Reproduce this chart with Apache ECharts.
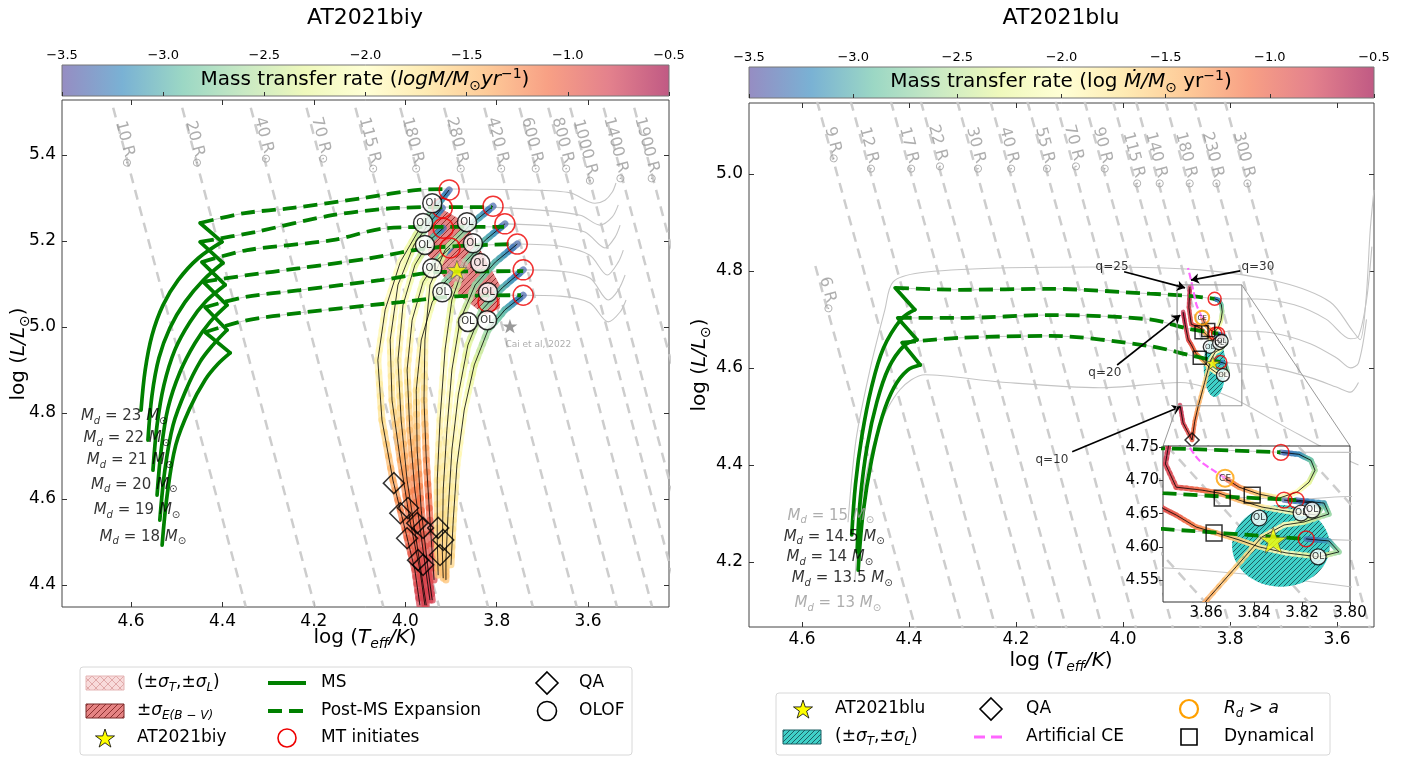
<!DOCTYPE html>
<html><head><meta charset="utf-8">
<script src="https://cdn.jsdelivr.net/npm/echarts@6/dist/echarts.min.js"></script>
<style>html,body{margin:0;padding:0;background:#fff}#c{width:1416px;height:758px}</style>
</head><body><div id="c"></div>
<script>
// ================= DATA =================
const cbTicks = [-3.5,-3.0,-2.5,-2.0,-1.5,-1.0,-0.5];
const biyXTicks = [3.6,3.8,4.0,4.2,4.4,4.6];
const biyYTicks = [4.4,4.6,4.8,5.0,5.2,5.4];
const bluXTicks = [3.6,3.8,4.0,4.2,4.4,4.6];
const bluYTicks = [4.2,4.4,4.6,4.8,5.0];
const insetXTicks = [3.80,3.82,3.84,3.86];
const insetYTicks = [4.55,4.60,4.65,4.70,4.75];
const biyRange = {x:[3.423,4.751], y:[4.349,5.528]};
const bluRange = {x:[3.531,4.699], y:[4.066,5.146]};
const insetRange = {x:[3.80,3.878], y:[4.517,4.752]};

// constant-radius lines: [R label, top point, bottom point, label centre]  (logT, logL)
const biyRadius = [
 ['10',[4.639,5.51],[4.349,4.35],[4.611,5.426]],
 ['20',[4.488,5.51],[4.198,4.35],[4.458,5.426]],
 ['40',[4.338,5.51],[4.048,4.35],[4.307,5.435]],
 ['70',[4.216,5.51],[3.926,4.35],[4.182,5.435]],
 ['115',[4.109,5.51],[3.819,4.35],[4.075,5.423]],
 ['180',[4.011,5.51],[3.721,4.35],[3.981,5.423]],
 ['280',[3.915,5.51],[3.625,4.35],[3.884,5.423]],
 ['420',[3.827,5.51],[3.537,4.35],[3.795,5.423]],
 ['600',[3.750,5.51],[3.460,4.35],[3.720,5.423]],
 ['800',[3.687,5.51],[3.397,4.35],[3.653,5.423]],
 ['1000',[3.639,5.51],[3.349,4.35],[3.604,5.407]],
 ['1400',[3.566,5.51],[3.276,4.35],[3.537,5.412]],
 ['1900',[3.499,5.51],[3.209,4.35],[3.469,5.412]]
];
const bluRadius = [
 ['6',[4.575,4.81],[4.387,4.06],[4.550,4.751]],
 ['9',[4.572,5.15],[4.299,4.06],[4.540,5.060]],
 ['12',[4.509,5.15],[4.237,4.06],[4.473,5.049]],
 ['17',[4.434,5.15],[4.161,4.06],[4.398,5.049]],
 ['22',[4.378,5.15],[4.105,4.06],[4.344,5.054]],
 ['30',[4.310,5.15],[4.038,4.06],[4.273,5.049]],
 ['40',[4.248,5.15],[3.975,4.06],[4.211,5.049]],
 ['55',[4.179,5.15],[3.906,4.06],[4.144,5.049]],
 ['70',[4.126,5.15],[3.854,4.06],[4.090,5.054]],
 ['90',[4.072,5.15],[3.799,4.06],[4.036,5.049]],
 ['115',[4.019,5.15],[3.746,4.06],[3.978,5.029]],
 ['140',[3.976,5.15],[3.703,4.06],[3.936,5.029]],
 ['180',[3.921,5.15],[3.649,4.06],[3.880,5.029]],
 ['230',[3.868,5.15],[3.595,4.06],[3.830,5.029]],
 ['300',[3.810,5.15],[3.538,4.06],[3.772,5.029]]
];

// ---- AT2021biy ----
const biyMdLabels = [['23',4.615,4.793],['22',4.609,4.742],['21',4.602,4.691],['20',4.593,4.633],['19',4.587,4.574],['18',4.574,4.512]];
// MS tracks: ZAMS ... end of MS (coolest point), then the hook up-left (last point = start of post-MS)
const biyMS = [
 [[4.578,4.807],[4.569,4.900],[4.554,4.981],[4.530,5.051],[4.497,5.109],[4.453,5.160],[4.401,5.198],[4.449,5.242]],
 [[4.563,4.737],[4.554,4.842],[4.539,4.928],[4.515,4.998],[4.482,5.058],[4.442,5.109],[4.399,5.149],[4.449,5.198]],
 [[4.552,4.667],[4.543,4.772],[4.528,4.865],[4.504,4.947],[4.471,5.012],[4.436,5.060],[4.394,5.098],[4.445,5.151]],
 [[4.543,4.609],[4.534,4.714],[4.519,4.812],[4.493,4.895],[4.460,4.963],[4.427,5.012],[4.390,5.051],[4.442,5.105]],
 [[4.537,4.551],[4.526,4.667],[4.508,4.772],[4.480,4.853],[4.449,4.919],[4.421,4.958],[4.390,4.993],[4.438,5.046]],
 [[4.532,4.493],[4.521,4.609],[4.502,4.726],[4.471,4.812],[4.438,4.877],[4.410,4.914],[4.383,4.940],[4.438,4.988]]
];
const biyPostMS = [
 [[4.449,5.242],[4.351,5.265],[4.246,5.277],[4.092,5.300],[3.972,5.319],[3.904,5.321]],
 [[4.449,5.198],[4.329,5.221],[4.160,5.260],[4.016,5.277],[3.904,5.279],[3.810,5.279]],
 [[4.445,5.151],[4.346,5.179],[4.160,5.202],[4.040,5.230],[3.902,5.233],[3.784,5.233]],
 [[4.442,5.105],[4.350,5.120],[4.230,5.137],[4.077,5.160],[3.946,5.184],[3.758,5.193]],
 [[4.438,5.046],[4.350,5.070],[4.230,5.086],[4.055,5.109],[3.924,5.128],[3.742,5.130]],
 [[4.438,4.988],[4.350,5.015],[4.230,5.033],[4.011,5.058],[3.880,5.072],[3.747,5.074]]
];
const biySingle = [
 [[3.904,5.321],[3.733,5.319],[3.639,5.312],[3.585,5.288],[3.563,5.295],[3.547,5.314],[3.539,5.335]],
 [[3.810,5.279],[3.705,5.272],[3.617,5.260],[3.574,5.237],[3.547,5.256],[3.534,5.284]],
 [[3.782,5.240],[3.683,5.235],[3.607,5.221],[3.563,5.184],[3.541,5.209],[3.530,5.237]],
 [[3.758,5.193],[3.661,5.188],[3.596,5.167],[3.558,5.121],[3.534,5.151],[3.523,5.179]],
 [[3.742,5.133],[3.661,5.130],[3.596,5.114],[3.556,5.063],[3.534,5.086],[3.519,5.121]],
 [[3.747,5.074],[3.661,5.072],[3.596,5.056],[3.556,5.012],[3.530,5.035],[3.517,5.063]]
];
// mass-transfer tracks: [logT, logL, log Mdot]
const biyMT = [
 [[3.904,5.319,-3.4],[3.930,5.284,-3.0],[3.968,5.230,-2.4],[4.011,5.151,-2.0],[4.044,5.040,-1.95],[4.060,4.923,-1.9],[4.051,4.784,-1.7],[4.027,4.644,-1.4],[4.000,4.528,-1.1],[3.979,4.435,-0.9],[3.968,4.353,-0.8]],
 [[3.919,5.277,-3.4],[3.946,5.244,-2.9],[3.981,5.191,-2.3],[4.016,5.098,-2.0],[4.033,4.970,-1.9],[4.029,4.830,-1.7],[4.011,4.691,-1.4],[3.990,4.551,-1.1],[3.968,4.435,-0.9],[3.957,4.353,-0.8]],
 [[3.917,5.230,-3.4],[3.946,5.202,-2.8],[3.979,5.144,-2.2],[4.005,5.051,-2.0],[4.016,4.923,-1.85],[4.009,4.784,-1.6],[3.996,4.644,-1.3],[3.976,4.505,-1.0],[3.954,4.353,-0.8]],
 [[3.902,5.184,-3.4],[3.930,5.156,-2.8],[3.961,5.105,-2.2],[3.985,5.016,-2.0],[3.996,4.900,-1.8],[3.990,4.760,-1.5],[3.979,4.621,-1.2],[3.961,4.481,-0.9],[3.946,4.365,-0.8]],
 [[3.887,5.133,-3.4],[3.913,5.105,-2.7],[3.941,5.058,-2.2],[3.965,4.970,-1.95],[3.976,4.853,-1.75],[3.974,4.714,-1.4],[3.965,4.574,-1.1],[3.950,4.435,-0.85],[3.941,4.365,-0.8]],
 [[3.808,5.281,-3.4],[3.858,5.237,-2.9],[3.913,5.179,-2.4],[3.946,5.098,-2.1],[3.957,4.970,-1.95],[3.959,4.830,-1.65],[3.954,4.691,-1.3],[3.946,4.551,-1.0],[3.937,4.412,-0.85]],
 [[3.782,5.240,-3.4],[3.825,5.202,-3.0],[3.869,5.151,-2.7],[3.898,5.063,-2.3],[3.913,4.947,-2.0],[3.924,4.784,-1.9],[3.930,4.644,-1.75],[3.930,4.505,-1.6],[3.928,4.423,-1.5]],
 [[3.755,5.193,-3.4],[3.803,5.151,-3.0],[3.847,5.098,-2.7],[3.880,5.016,-2.3],[3.898,4.900,-2.0],[3.909,4.760,-1.9],[3.917,4.621,-1.75],[3.919,4.481,-1.6],[3.917,4.416,-1.5]],
 [[3.742,5.133,-3.4],[3.788,5.091,-3.0],[3.832,5.040,-2.7],[3.863,4.958,-2.3],[3.884,4.842,-2.0],[3.898,4.714,-1.9],[3.906,4.574,-1.75],[3.911,4.458,-1.6],[3.911,4.412,-1.5]],
 [[3.742,5.074,-3.4],[3.782,5.040,-3.0],[3.819,4.993,-2.7],[3.849,4.912,-2.3],[3.871,4.807,-2.0],[3.887,4.679,-1.9],[3.895,4.551,-1.75],[3.900,4.447,-1.6]]
];
const biyMTStart = [[3.904,5.319],[3.919,5.277],[3.808,5.281],[3.917,5.230],[3.782,5.240],[3.902,5.184],[3.755,5.193],[3.742,5.133],[3.819,5.058],[3.742,5.074]];
const biyOLOF = [[3.941,5.288],[3.961,5.242],[3.865,5.244],[3.957,5.191],[3.852,5.195],[3.941,5.137],[3.836,5.149],[3.919,5.081],[3.819,5.081],[3.863,5.012],[3.821,5.016]];
const biyQA = [[4.025,4.637],[4.011,4.567],[3.994,4.579],[3.974,4.544],[3.961,4.533],[3.996,4.509],[3.928,4.533],[3.917,4.505],[3.924,4.470],[3.972,4.458],[3.961,4.447]];
const biyStar = [3.887,5.133];
const caiStar = [3.771,5.002];
const caiLabelPos = [3.709,4.958];
const biySigmaTL = [3.887,5.133,0.029,0.028];
const biySigmaE = [[3.935,5.284],[3.869,5.244],[3.793,5.098],[3.793,5.044],[3.825,5.028],[3.891,5.081],[3.950,5.167],[3.950,5.260]];

// ---- AT2021blu ----
const bluMdLabels = [['15',4.546,4.295,true],['14.5',4.540,4.252,false],['14',4.548,4.210,false],['13.5',4.525,4.167,false],['13',4.533,4.115,true]];
const bluMS = [
 [[4.507,4.256],[4.500,4.360],[4.488,4.460],[4.470,4.560],[4.448,4.640],[4.415,4.700],[4.389,4.720],[4.426,4.765]],
 [[4.497,4.221],[4.491,4.330],[4.478,4.440],[4.460,4.530],[4.438,4.600],[4.410,4.645],[4.385,4.658],[4.421,4.703]],
 [[4.495,4.183],[4.486,4.300],[4.470,4.410],[4.450,4.500],[4.428,4.560],[4.403,4.595],[4.379,4.606],[4.413,4.652]]
];
const bluPostMS = [
 [[4.426,4.765],[4.305,4.761],[4.136,4.763],[3.950,4.753],[3.878,4.7485],[3.829,4.7425]],
 [[4.421,4.703],[4.305,4.703],[4.136,4.709],[3.950,4.700],[3.878,4.681],[3.8225,4.6705]],
 [[4.413,4.652],[4.305,4.662],[4.136,4.666],[3.950,4.645],[3.878,4.627],[3.8183,4.612]]
];
const bluGray = [
 [[4.514,4.282],[4.499,4.452],[4.473,4.596],[4.445,4.720],[4.430,4.777],[4.379,4.796],[4.230,4.806],[4.043,4.808],[3.856,4.802],[3.707,4.777],[3.613,4.736],[3.572,4.678],[3.557,4.658],[3.546,4.740],[3.538,4.885],[3.531,4.967]],
 [[4.501,4.163],[4.488,4.328],[4.458,4.472],[4.417,4.555],[4.370,4.586],[4.230,4.571],[4.043,4.559],[3.893,4.570],[3.800,4.540],[3.700,4.480],[3.600,4.420],[3.560,4.400]],
 [[3.829,4.7425],[3.750,4.742],[3.680,4.730],[3.620,4.700],[3.575,4.660],[3.560,4.665],[3.545,4.740],[3.535,4.850]],
 [[3.8225,4.6705],[3.800,4.676],[3.720,4.672],[3.650,4.650],[3.600,4.620],[3.575,4.600],[3.560,4.610],[3.545,4.700]],
 [[3.8183,4.612],[3.800,4.610],[3.720,4.600],[3.650,4.580],[3.600,4.560],[3.575,4.550],[3.560,4.570]]
];
const bluMT = [
 [[3.8288,4.7425,-3.4],[3.8213,4.7395,-3.2],[3.8163,4.7305,-2.9],[3.8146,4.7155,-2.6],[3.8171,4.6975,-2.3],[3.8221,4.6825,-2.0],[3.8296,4.6735,-1.9],[3.8379,4.6795,-1.6],[3.8463,4.690,-1.3],[3.8521,4.7035,-1.0]],
 [[3.8275,4.6705,-3.4],[3.8158,4.666,-3.1],[3.8121,4.6585,-2.8],[3.8138,4.648,-2.5],[3.8242,4.6525,-2.1],[3.8367,4.660,-1.8],[3.8463,4.6705,-1.5],[3.8546,4.681,-1.3],[3.8617,4.6855,-1.1],[3.8725,4.690,-0.9],[3.877,4.725,-0.8],[3.875,4.767,-0.7]],
 [[3.8183,4.612,-3.4],[3.8088,4.609,-3.1],[3.8046,4.5925,-2.7],[3.8129,4.585,-2.3],[3.8267,4.591,-2.0],[3.8379,4.600,-1.8],[3.8463,4.6106,-1.6],[3.8558,4.621,-1.4],[3.8642,4.630,-1.2],[3.8725,4.648,-1.0],[3.8783,4.6585,-0.9],[3.884,4.690,-0.75],[3.8878,4.7155,-0.7]],
 [[3.8225,4.6705,-3.4],[3.8108,4.666,-3.1],[3.8088,4.6495,-2.7],[3.8192,4.6375,-2.3],[3.8275,4.633,-2.0],[3.8367,4.615,-1.8],[3.8475,4.570,-1.6],[3.8596,4.5206,-1.4],[3.866,4.490,-1.2],[3.871,4.4515,-1.0],[3.8878,4.4866,-0.8],[3.8935,4.5237,-0.7]]
];
const bluArtificialCE = [[3.8521,4.7035],[3.8558,4.7125],[3.8629,4.7305],[3.8683,4.7575],[3.873,4.781],[3.8785,4.806]];
const bluCE = [[3.8521,4.7035]];
const bluMTStart = [[3.8288,4.7425],[3.8275,4.6705],[3.8225,4.6705],[3.8183,4.612]];
const bluOLOF = [[3.8379,4.6435],[3.8204,4.651],[3.8158,4.6555],[3.8133,4.585]];
const bluDynamical = [[3.8533,4.6735],[3.8408,4.678],[3.8567,4.621]];
const bluQA = [[3.871,4.4515]];
const bluStar = [3.832,4.610];
const bluSigma = [3.8288,4.6016,0.0204,0.0615];
const bluZoomBox = [3.899,3.778,4.522,4.771]; // T hot, T cool, L low, L high
// annotations: [text, text centre, arrow start, arrow tip]
const bluQ = [
 ['q=25',[4.0205,4.808],[3.998,4.798],[3.884,4.765]],
 ['q=30',[3.748,4.808],[3.781,4.800],[3.873,4.781]],
 ['q=20',[4.034,4.590],[4.011,4.606],[3.893,4.709]],
 ['q=10',[4.133,4.410],[4.095,4.427],[3.893,4.520]]
];

// ================= STYLE HELPERS =================
const FONT = 'DejaVu Sans';
const GREEN = '#008000';
const SPEC = ['#5e4fa2','#3288bd','#66c2a5','#abdda4','#e6f598','#ffffbf','#fee08b','#fdae61','#f46d43','#d53e4f','#9e0142'];
const hex = h => [parseInt(h.slice(1,3),16),parseInt(h.slice(3,5),16),parseInt(h.slice(5,7),16)];
const SPEC_RGB = SPEC.map(hex);
function cmap(v, a){
  let t = (v+3.5)/3; t = Math.max(0,Math.min(1,t));
  const f = t*10, i = Math.min(9,Math.floor(f)), u = f-i;
  const c = [0,1,2].map(k => Math.round(SPEC_RGB[i][k]+(SPEC_RGB[i+1][k]-SPEC_RGB[i][k])*u));
  return `rgba(${c[0]},${c[1]},${c[2]},${a})`;
}
const cbGrad = {type:'linear',x:0,y:0,x2:1,y2:0,colorStops:SPEC.map((c,i)=>{const r=hex(c);return {offset:i/10,color:`rgba(${r[0]},${r[1]},${r[2]},0.65)`};})};

function hatch(bg, fg, cross, s, lw){
  const c = document.createElement('canvas'); c.width = c.height = s;
  const g = c.getContext('2d'); g.fillStyle = bg; g.fillRect(0,0,s,s);
  g.strokeStyle = fg; g.lineWidth = lw || 1; g.beginPath();
  g.moveTo(0,s); g.lineTo(s,0); g.moveTo(-s/2,s/2); g.lineTo(s/2,-s/2); g.moveTo(s/2,s+s/2); g.lineTo(s+s/2,s/2);
  if (cross){ g.moveTo(0,0); g.lineTo(s,s); g.moveTo(-s/2,s/2); g.lineTo(s/2,s+s/2); g.moveTo(s/2,-s/2); g.lineTo(s+s/2,s/2); }
  g.stroke();
  return {image:c, repeat:'repeat'};
}
const patRed = hatch('rgba(222,100,100,0.8)','rgba(110,20,20,0.75)',false,6,1);
const patPink = hatch('rgba(240,175,175,0.45)','rgba(205,130,130,0.55)',true,8,1);
const patCyan = hatch('#3fd0c8','#1d5f62',false,5,1);

function rich(size, color, subScale){
  color = color || '#000';
  const sub = Math.round(size*(subScale||0.68));
  const b = {fontFamily:FONT, color, fontSize:size, lineHeight:Math.round(size*1.3)};
  return {
    n: Object.assign({}, b),
    i: Object.assign({}, b, {fontStyle:'italic'}),
    s: {fontFamily:FONT, color, fontSize:sub, lineHeight:sub, verticalAlign:'bottom'},
    si: {fontFamily:FONT, color, fontSize:sub, lineHeight:sub, verticalAlign:'bottom', fontStyle:'italic'},
    sup: {fontFamily:FONT, color, fontSize:sub, lineHeight:sub, verticalAlign:'top'}
  };
}
const STAR = 'path://M50,2 L61.8,37.1 L98.5,37.1 L68.8,58.8 L80.1,94 L50,72.3 L19.9,94 L31.2,58.8 L1.5,37.1 L38.2,37.1 Z';

// ================= SERIES =================
const S = [];
function addLine(data, xi, yi, ls, z, extra){
  S.push(Object.assign({type:'line', xAxisIndex:xi, yAxisIndex:yi, data, symbol:'none', showSymbol:false,
    lineStyle:ls, z, silent:true, clip:true, animation:false, emphasis:{disabled:true}}, extra||{}));
}
function addScatter(data, xi, yi, symbol, size, itemStyle, z, label, extra){
  S.push(Object.assign({type:'scatter', xAxisIndex:xi, yAxisIndex:yi, data, symbol, symbolSize:size, symbolKeepAspect:true,
    itemStyle, z, silent:true, clip:true, animation:false, emphasis:{disabled:true}, label: label || {show:false}}, extra||{}));
}
function addMT(tracks, xi, yi, width, z){
  const segs = [];
  tracks.forEach(tr => { for (let i=0;i<tr.length-1;i++) segs.push([tr[i][0],tr[i][1],tr[i+1][0],tr[i+1][1],tr[i][2],tr[i+1][2]]); });
  S.push({type:'custom', xAxisIndex:xi, yAxisIndex:yi, data:segs, clip:true, z, silent:true, animation:false,
    encode:{x:[0,2], y:[1,3]},
    renderItem:(params, api) => {
      const a = api.coord([api.value(0), api.value(1)]), b = api.coord([api.value(2), api.value(3)]);
      const r1 = api.value(4), r2 = api.value(5), n = 5, ch = [];
      for (let k=0;k<n;k++){
        const t0 = k/n, t1 = (k+1)/n;
        ch.push({type:'line', shape:{x1:a[0]+(b[0]-a[0])*t0, y1:a[1]+(b[1]-a[1])*t0, x2:a[0]+(b[0]-a[0])*t1, y2:a[1]+(b[1]-a[1])*t1},
          style:{stroke:cmap(r1+(r2-r1)*(t0+t1)/2, 0.72), lineWidth:width, lineCap:'round'}});
      }
      return {type:'group', children:ch};
    }});
  tracks.forEach(tr => addLine(tr.map(p=>[p[0],p[1]]), xi, yi, {color:'#000', width:0.8}, z+1));
}
function addEllipse(e, fill, xi, yi, z){
  S.push({type:'custom', xAxisIndex:xi, yAxisIndex:yi, data:[e], clip:true, z, silent:true, animation:false, encode:{x:0,y:1},
    renderItem:(params, api) => {
      const pts = [];
      for (let k=0;k<60;k++){ const t = k/60*2*Math.PI;
        pts.push(api.coord([api.value(0)+api.value(2)*Math.cos(t), api.value(1)+api.value(3)*Math.sin(t)])); }
      return {type:'polygon', shape:{points:pts}, style:{fill, stroke:null}};
    }});
}
function addPolygon(poly, fill, xi, yi, z){
  S.push({type:'custom', xAxisIndex:xi, yAxisIndex:yi, data:poly, clip:true, z, silent:true, animation:false, encode:{x:0,y:1},
    renderItem:(params, api) => {
      if (params.dataIndex !== 0) return null;
      return {type:'polygon', shape:{points:poly.map(p=>api.coord(p))}, style:{fill, stroke:null}};
    }});
}
// MS track: smooth curve up to the end of the MS, then straight hook segment
function addMS(tr, xi, yi, z){
  const n = tr.length;
  addLine(tr.slice(0, n-1), xi, yi, {color:GREEN, width:3.7, cap:'round'}, z, {smooth:0.35});
  addLine(tr.slice(n-2), xi, yi, {color:GREEN, width:3.7, cap:'round'}, z);
}
const openStyle = c => ({color:'rgba(255,255,255,0)', borderColor:c, borderWidth:1.5});
const olLabel = fs => ({show:true, formatter:'OL', position:'inside', fontSize:fs, fontFamily:FONT, color:'#000'});
function radiusLabels(list, xi, yi){
  addScatter(list.map(r => ({value:r[3], label:{formatter:'{n|'+r[0]+' R}{s|⊙}'}})), xi, yi, 'circle', 0,
    {color:'transparent'}, 12, {show:true, position:'inside', rotate:-75, rich:rich(16,'#9a9a9a',0.75)});
}
function mdLabels(list, xi, yi){
  addScatter(list.map(m => ({value:[m[1],m[2]], label:{formatter:'{i|M}{si|d}{n| = '+m[0]+' }{i|M}{s|⊙}', rich:rich(15, m[3]?'#999':'#000')}})),
    xi, yi, 'circle', 0, {color:'transparent'}, 12, {show:true, position:'inside'});
}

// ---------- left panel (AT2021biy) ----------
(function(){
  const xi = 1, yi = 1;
  biyRadius.forEach(r => addLine([r[1], r[2]], xi, yi, {color:'rgba(200,200,200,0.9)', width:2.5, type:[10,7]}, 1));
  radiusLabels(biyRadius, xi, yi);
  biyPostMS.forEach(t => addLine(t, xi, yi, {color:'#c8c8c8', width:1}, 2, {smooth:0.3}));
  biySingle.forEach(t => addLine(t, xi, yi, {color:'#c4c4c4', width:1.1}, 2, {smooth:0.3}));
  addPolygon(biySigmaE, patRed, xi, yi, 3);
  addMT(biyMT, xi, yi, 7, 4);
  addEllipse(biySigmaTL, patPink, xi, yi, 6);
  biyMS.forEach(t => addMS(t, xi, yi, 7));
  biyPostMS.forEach(t => addLine(t, xi, yi, {color:GREEN, width:3.8, type:[14,7]}, 7, {smooth:0.3}));
  addScatter(biyMTStart, xi, yi, 'circle', 20, openStyle('#ee0000'), 8);
  addScatter(biyOLOF, xi, yi, 'circle', 19, {color:'#fff', borderColor:'#000', borderWidth:1.5}, 9, olLabel(10));
  addScatter(biyQA, xi, yi, 'diamond', 21, openStyle('#000'), 9);
  addScatter([caiStar], xi, yi, STAR, 15, {color:'#808080'}, 10);
  addScatter([{value:caiLabelPos}], xi, yi, 'circle', 0, {color:'transparent'}, 10,
    {show:true, position:'inside', formatter:'Cai et al, 2022', fontSize:9, fontFamily:FONT, color:'#999'});
  addScatter([biyStar], xi, yi, STAR, 20, {color:'#ffff00', borderColor:'#555', borderWidth:0.8}, 11);
  mdLabels(biyMdLabels, xi, yi);
})();

// ---------- right panel (AT2021blu) main + inset ----------
function drawBlu(xi, yi, zo, k, isMain){
  bluRadius.forEach(r => addLine([r[1], r[2]], xi, yi, {color:'rgba(200,200,200,0.9)', width:2.5, type:[10,7]}, zo+1));
  bluGray.forEach(t => addLine(t, xi, yi, {color:'#c4c4c4', width:1.1}, zo+2, {smooth:0.3}));
  bluPostMS.forEach(t => addLine(t, xi, yi, {color:'#c8c8c8', width:1}, zo+2, {smooth:0.3}));
  addEllipse(bluSigma, patCyan, xi, yi, zo+3);
  addMT(bluMT, xi, yi, isMain?4.5:5.5, zo+4);
  bluMS.forEach(t => addMS(t, xi, yi, zo+6));
  bluPostMS.forEach(t => addLine(t, xi, yi, {color:GREEN, width:3.8, type:[14,7]}, zo+6, {smooth:0.3}));
  addLine(bluArtificialCE, xi, yi, {color:'#ff66ff', width:2.2, type:[7,3]}, zo+7, {smooth:0.3});
  addScatter(bluMTStart, xi, yi, 'circle', 13*k, openStyle('#ee0000'), zo+8);
  addScatter(bluOLOF, xi, yi, 'circle', 13*k, {color:'#fff', borderColor:'#000', borderWidth:1.3}, zo+9, olLabel(isMain?7:9));
  addScatter(bluDynamical, xi, yi, 'rect', 13*k, openStyle('#000'), zo+9);
  addScatter(bluQA, xi, yi, 'diamond', 14*k, openStyle('#000'), zo+9);
  addScatter(bluCE, xi, yi, 'circle', 14*k, {color:'rgba(255,255,255,0.3)', borderColor:'#ffa000', borderWidth:2}, zo+9,
    {show:true, formatter:'CE', position:'inside', fontSize:isMain?7:9, fontFamily:FONT, color:'#000'});
  addScatter([bluStar], xi, yi, STAR, isMain?14:27, {color:'#ffff00', borderColor:'#444', borderWidth:0.8}, zo+10);
}
drawBlu(4, 4, 0, 1, true);
drawBlu(6, 6, 31, 1.22, false);
radiusLabels(bluRadius, 4, 4);
mdLabels(bluMdLabels, 4, 4);
addLine([[bluZoomBox[0],bluZoomBox[2]],[bluZoomBox[1],bluZoomBox[2]],[bluZoomBox[1],bluZoomBox[3]],[bluZoomBox[0],bluZoomBox[3]],[bluZoomBox[0],bluZoomBox[2]]],
  4, 4, {color:'#999', width:1.2}, 11);
S.push({type:'lines', coordinateSystem:'cartesian2d', xAxisIndex:4, yAxisIndex:4, silent:true, animation:false, z:12,
  data: bluQ.map(q => ({coords:[q[2], q[3]]})), symbol:['none','arrow'], symbolSize:8,
  lineStyle:{color:'#000', width:1.6, opacity:1, curveness:0}});
addScatter(bluQ.map(q => ({value:q[1], label:{formatter:q[0]}})), 4, 4, 'circle', 0, {color:'transparent'}, 12,
  {show:true, position:'inside', fontSize:12, fontFamily:FONT, color:'#000'});

// ================= AXES =================
const minus = v => (v<0?'\u2212':'') + Math.abs(v).toFixed(1);
function xAx(grid, pos, range, ticks, showLabel, fmt, extra){
  return Object.assign({type:'value', gridIndex:grid, position:pos, inverse:true, min:range[0], max:range[1],
    axisLine:{show:false}, splitLine:{show:false},
    axisTick:{show:true, inside:true, length:5, customValues:ticks, lineStyle:{color:'#333'}},
    axisLabel:{show:showLabel, customValues:ticks, formatter:fmt, fontFamily:FONT, fontSize:17, color:'#000', margin:6}}, extra||{});
}
function yAx(grid, pos, range, ticks, showLabel, fmt, extra){
  return Object.assign({type:'value', gridIndex:grid, position:pos, min:range[0], max:range[1],
    axisLine:{show:false}, splitLine:{show:false},
    axisTick:{show:true, inside:true, length:5, customValues:ticks, lineStyle:{color:'#333'}},
    axisLabel:{show:showLabel, customValues:ticks, formatter:fmt, fontFamily:FONT, fontSize:17, color:'#000', margin:6}}, extra||{});
}
const f1 = v => v.toFixed(1), f2 = v => v.toFixed(2);
const cbAxis = g => ({type:'value', gridIndex:g, position:'top', min:-3.5, max:-0.5, interval:0.5,
  axisLine:{show:false}, splitLine:{show:false}, axisTick:{show:true, inside:false, length:4, lineStyle:{color:'#333'}},
  axisLabel:{show:true, formatter:minus, fontFamily:FONT, fontSize:13, color:'#000', margin:3}});

const option = {
  animation:false,
  backgroundColor:'#fff',
  grid:[
    {left:62, top:65, width:607, height:31, show:true, backgroundColor:cbGrad, borderColor:'#777', borderWidth:1},
    {left:62, top:100, width:607, height:507, show:true, backgroundColor:'#fff', borderColor:'#444', borderWidth:1},
    {left:749, top:67, width:625, height:31, show:true, backgroundColor:cbGrad, borderColor:'#777', borderWidth:1},
    {left:749, top:103, width:625, height:524, show:true, backgroundColor:'#fff', borderColor:'#444', borderWidth:1},
    {left:1163, top:446, width:187, height:156, show:true, backgroundColor:'#fff', borderColor:'#333', borderWidth:1, z:30}
  ],
  xAxis:[
    cbAxis(0),
    xAx(1,'bottom',biyRange.x,biyXTicks,true,f1),
    xAx(1,'top',biyRange.x,biyXTicks,false,f1),
    cbAxis(2),
    xAx(3,'bottom',bluRange.x,bluXTicks,true,f1,{axisLabel:{show:true, customValues:bluXTicks, formatter:f1, fontFamily:FONT, fontSize:17, color:'#000', margin:4}}),
    xAx(3,'top',bluRange.x,bluXTicks,false,f1),
    xAx(4,'bottom',insetRange.x,insetXTicks,true,f2,{z:45,
      axisTick:{show:true, inside:false, length:4, customValues:insetXTicks, lineStyle:{color:'#333'}},
      axisLabel:{show:true, customValues:insetXTicks, formatter:f2, fontFamily:FONT, fontSize:15, color:'#000', margin:4}})
  ],
  yAxis:[
    {type:'value', gridIndex:0, show:false, min:0, max:1},
    yAx(1,'left',biyRange.y,biyYTicks,true,f1),
    yAx(1,'right',biyRange.y,biyYTicks,false,f1),
    {type:'value', gridIndex:2, show:false, min:0, max:1},
    yAx(3,'left',bluRange.y,bluYTicks,true,f1),
    yAx(3,'right',bluRange.y,bluYTicks,false,f1),
    yAx(4,'left',insetRange.y,insetYTicks,true,f2,{z:45,
      axisTick:{show:true, inside:false, length:4, customValues:insetYTicks, lineStyle:{color:'#333'}},
      axisLabel:{show:true, customValues:insetYTicks, formatter:f2, fontFamily:FONT, fontSize:15, color:'#000', margin:4}})
  ],
  series:S,
  graphic:[]
};

// ================= TEXT & LEGENDS (graphic) =================
const G = option.graphic;
function txt(x, y, text, size, opts){
  const o = Object.assign({align:'left', rotation:0, color:'#000'}, opts||{});
  G.push({type:'text', x, y, rotation:o.rotation, z:60, silent:true,
    style:{text, rich:rich(size, o.color), fontSize:size, fontFamily:FONT, fill:o.color, align:o.align, verticalAlign:'middle'}});
}
txt(365, 18, '{n|AT2021biy}', 22, {align:'center'});
txt(1061, 18, '{n|AT2021blu}', 22, {align:'center'});
txt(365, 80, '{n|Mass transfer rate (}{i|logM/M}{s|⊙}{i|yr}{sup|−1}{n|)}', 20, {align:'center'});
txt(1061, 82, '{n|Mass transfer rate (log }{i|Ṁ/M}{s|⊙}{n| yr}{sup|−1}{n|)}', 20, {align:'center'});
txt(365, 638, '{n|log (}{i|T}{si|eff}{i|/K}{n|)}', 20, {align:'center'});
txt(1061, 661, '{n|log (}{i|T}{si|eff}{i|/K}{n|)}', 20, {align:'center'});
txt(19, 354, '{n|log (}{i|L/L}{s|⊙}{n|)}', 20, {align:'center', rotation:Math.PI/2});
txt(700, 365, '{n|log (}{i|L/L}{s|⊙}{n|)}', 20, {align:'center', rotation:Math.PI/2});

function starG(cx, cy, s){
  const R = s/2, r = R*0.382, pts = [];
  for (let k=0;k<10;k++){ const a = -Math.PI/2 + k*Math.PI/5, rr = k%2 ? r : R; pts.push([cx+rr*Math.cos(a), cy+rr*Math.sin(a)+1]); }
  G.push({type:'polygon', z:61, silent:true, shape:{points:pts}, style:{fill:'#ffff00', stroke:'#000', lineWidth:0.8}});
}
function diamondG(cx, cy, h){
  G.push({type:'polygon', z:61, silent:true, shape:{points:[[cx,cy-h],[cx+h,cy],[cx,cy+h],[cx-h,cy]]}, style:{fill:'none', stroke:'#000', lineWidth:1.6}});
}
function circleG(cx, cy, r, c, w){
  G.push({type:'circle', z:61, silent:true, shape:{cx, cy, r}, style:{fill:'none', stroke:c, lineWidth:w||1.6}});
}
function lineG(x1, x2, y, c, w, dash){
  G.push({type:'line', z:61, silent:true, shape:{x1, y1:y, x2, y2:y}, style:{stroke:c, lineWidth:w, lineDash:dash||null}});
}
// left legend
G.push({type:'rect', z:59, silent:true, shape:{x:80, y:667, width:552, height:88, r:3}, style:{fill:'#fff', stroke:'#d8d8d8', lineWidth:1}});
G.push({type:'rect', z:61, silent:true, shape:{x:86, y:676, width:38, height:14}, style:{fill:patPink, stroke:'#e5b5b5', lineWidth:1}});
txt(137, 683, '{n|(±}{i|σ}{si|T}{n|,±}{i|σ}{si|L}{n|)}', 17);
G.push({type:'rect', z:61, silent:true, shape:{x:86, y:704, width:38, height:14}, style:{fill:patRed, stroke:'#7a2a2a', lineWidth:1}});
txt(137, 711, '{n|±}{i|σ}{si|E(B − V)}', 17);
starG(105, 738, 20);
txt(137, 738, '{n|AT2021biy}', 17);
lineG(268, 306, 683, GREEN, 3.8);
txt(321, 683, '{n|MS}', 17);
lineG(268, 306, 711, GREEN, 3.8, [14,7]);
txt(321, 711, '{n|Post-MS Expansion}', 17);
circleG(287, 738, 9, '#ee0000');
txt(321, 738, '{n|MT initiates}', 17);
diamondG(547, 683, 11);
txt(579, 683, '{n|QA}', 17);
circleG(547, 711, 9.5, '#000');
txt(579, 711, '{n|OLOF}', 17);
// right legend
G.push({type:'rect', z:59, silent:true, shape:{x:776, y:693, width:554, height:62, r:3}, style:{fill:'#fff', stroke:'#d8d8d8', lineWidth:1}});
starG(803, 709, 20);
txt(835, 709, '{n|AT2021blu}', 17);
G.push({type:'rect', z:61, silent:true, shape:{x:783, y:730, width:38, height:14}, style:{fill:patCyan, stroke:'#1d5f62', lineWidth:1}});
txt(835, 737, '{n|(±}{i|σ}{si|T}{n|,±}{i|σ}{si|L}{n|)}', 17);
diamondG(991, 709, 11);
txt(1026, 709, '{n|QA}', 17);
lineG(974, 1006, 737, '#ff66ff', 3, [11,6]);
txt(1026, 737, '{n|Artificial CE}', 17);
circleG(1189, 709, 9, '#ffa000', 2.2);
txt(1224, 709, '{i|R}{si|d}{i| > a}', 17);
G.push({type:'rect', z:61, silent:true, shape:{x:1181, y:729, width:16, height:16}, style:{fill:'none', stroke:'#000', lineWidth:1.6}});
txt(1224, 737, '{n|Dynamical}', 17);

const chart = echarts.init(document.getElementById('c'), null, {renderer:'canvas', width:1416, height:758});
chart.setOption(option);

// inset connector lines (from zoom box in main panel to inset frame)
const pBL = chart.convertToPixel({gridIndex:3}, [bluZoomBox[0], bluZoomBox[2]]);
const pTR = chart.convertToPixel({gridIndex:3}, [bluZoomBox[1], bluZoomBox[3]]);
const qTL = chart.convertToPixel({gridIndex:4}, [insetRange.x[1], insetRange.y[1]]);
const qTR = chart.convertToPixel({gridIndex:4}, [insetRange.x[0], insetRange.y[1]]);
chart.setOption({graphic:[
  {id:'conn1', type:'line', z:25, silent:true, shape:{x1:pBL[0], y1:pBL[1], x2:qTL[0], y2:qTL[1]}, style:{stroke:'#999', lineWidth:1}},
  {id:'conn2', type:'line', z:25, silent:true, shape:{x1:pTR[0], y1:pTR[1], x2:qTR[0], y2:qTR[1]}, style:{stroke:'#999', lineWidth:1}}
]});
</script>
</body></html>
